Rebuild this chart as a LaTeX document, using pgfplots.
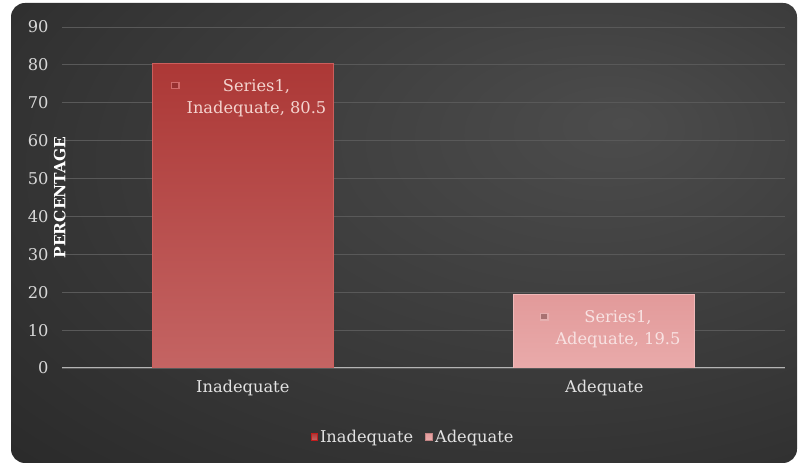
\documentclass[border=0pt]{standalone}
\usepackage{fontspec}
\setmainfont{DejaVu Serif}
\usepackage{pgfplots}
\pgfplotsset{compat=1.18}

\definecolor{bgin}{HTML}{4C4C4C}
\definecolor{bgmid}{HTML}{373737}
\definecolor{bgout}{HTML}{1C1C1C}
\definecolor{gridc}{HTML}{595959}
\definecolor{basec}{HTML}{B4B4B4}
\definecolor{tickc}{HTML}{D8D8D8}
\definecolor{textc}{HTML}{E2E2E2}
\definecolor{redtop}{HTML}{AC3836}
\definecolor{redbot}{HTML}{C46463}
\definecolor{redline}{HTML}{CC5E5C}
\definecolor{pinktop}{HTML}{E29A9A}
\definecolor{pinkbot}{HTML}{E9AAAA}
\definecolor{pinkline}{HTML}{F0B8B8}
\definecolor{redlab}{HTML}{F4D4CF}
\definecolor{pinklab}{HTML}{F8E2E2}
\definecolor{redkey}{HTML}{963030}
\definecolor{redkeyedge}{HTML}{D06A6A}
\definecolor{pinkkey}{HTML}{A87272}
\definecolor{pinkkeyedge}{HTML}{E6B0B0}

\pgfdeclareradialshading{chartbg}{\pgfpoint{14bp}{12bp}}{%
  color(0bp)=(bgin); color(28bp)=(bgmid); color(62bp)=(bgout); color(80bp)=(bgout)}

\newcommand\txtsize{\fontsize{16.3}{22}\selectfont}
% small framed key square
\newcommand\keybox[2]{{\setlength{\fboxsep}{0pt}\setlength{\fboxrule}{1.2bp}%
  \fcolorbox{#2}{#1}{\rule{0pt}{5bp}\rule{6bp}{0pt}}}}
% data label: key, then the two centred lines
\newcommand\barlabel[5]{%
  \raisebox{3bp}{\keybox{#1}{#2}}\hspace{7bp}%
  \begin{tabular}[t]{@{}c@{}}\textcolor{#3}{Series1,}\\\textcolor{#3}{#4, #5}\end{tabular}}

\begin{document}
\begin{tikzpicture}
\path[use as bounding box, fill=white] (0bp,0bp) rectangle (799bp,465bp);
\path[rounded corners=14bp, shading=chartbg] (11bp,2bp) rectangle (797bp,462bp);

\begin{axis}[
  at={(62bp,97bp)}, anchor=south west,
  scale only axis, width=723bp, height=341bp,
  xmin=-0.5, xmax=1.5, ymin=0, ymax=90,
  xtick={0,1}, xticklabels={Inadequate,Adequate},
  ytick={0,10,...,90},
  major tick length=0pt,
  axis line style={draw=none},
  ymajorgrids, grid style={gridc, line width=0.8bp},
  extra y ticks={0}, extra y tick labels={},
  extra y tick style={grid style={basec, line width=1bp}},
  /pgf/number format/assume math mode=true,
  tick label style={font=\txtsize, text=tickc},
  xticklabel style={text=textc, yshift=-9bp},
  yticklabel style={xshift=-10bp},
  ylabel={PERCENTAGE},
  ylabel style={font=\fontsize{15.5}{18}\selectfont\bfseries, text=white,
    at={(axis description cs:-0.003,0.5)}, anchor=center},
  legend style={at={(axis description cs:0.486,-0.202)}, anchor=center,
    draw=none, fill=none, font=\txtsize, text=textc,
    legend columns=2,
    /tikz/every even column/.append style={column sep=10bp}},
  legend cell align=left,
  nodes near coords style={inner sep=0pt, anchor=north, yshift=-12.5bp,
    xshift=6bp, font=\txtsize},
]

\addplot[ybar, bar width=0.5, bar shift=0pt,
  top color=redtop, bottom color=redbot, draw=redline, line width=0.8bp,
  legend image code/.code={\fill[redkey!60!red] (0bp,-3.5bp) rectangle (6bp,3.5bp);},
  point meta=y,
  nodes near coords={\barlabel{redkey}{redkeyedge}{redlab}{Inadequate}{\pgfmathprintnumber{\pgfplotspointmeta}}}]
  coordinates {(0,80.5)};
\addlegendentry{Inadequate}

\addplot[ybar, bar width=0.5, bar shift=0pt,
  top color=pinktop, bottom color=pinkbot, draw=pinkline, line width=0.8bp,
  legend image code/.code={\fill[pinktop!85!black] (0bp,-3.5bp) rectangle (7bp,3.5bp);},
  point meta=y,
  nodes near coords={\barlabel{pinkkey}{pinkkeyedge}{pinklab}{Adequate}{\pgfmathprintnumber{\pgfplotspointmeta}}}]
  coordinates {(1,19.5)};
\addlegendentry{Adequate}

\end{axis}
\end{tikzpicture}
\end{document}
